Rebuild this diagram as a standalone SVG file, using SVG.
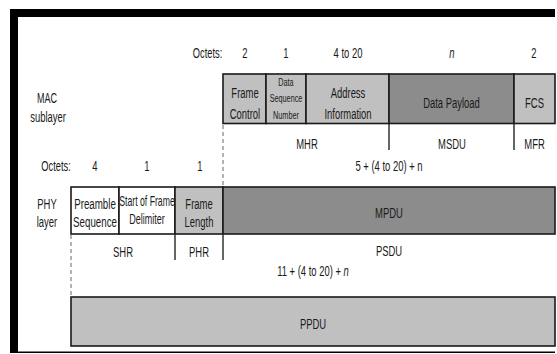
<svg xmlns="http://www.w3.org/2000/svg" width="557" height="354" viewBox="0 0 557 354">
<style>
text{font-family:"Liberation Sans",Arial,sans-serif;font-size:15px;fill:#1a1a1a;text-anchor:middle}
.sm{font-size:11.5px}
.it{font-style:italic}
.cell{stroke:#1a1a1a;stroke-width:1.6}
.lt{fill:#c0c0c0}
.dk{fill:#8c8c8c}
.wh{fill:#ffffff}
.div{stroke:#333;stroke-width:1.5;fill:none}
.dash{stroke:#9a9a9a;stroke-width:1.5;stroke-dasharray:4 3;fill:none}
</style>
<rect x="0" y="0" width="557" height="354" fill="#ffffff"/>
<g id="frame">
<rect x="10" y="9" width="545" height="8" fill="#000"/>
<rect x="10" y="9" width="8" height="344" fill="#000"/>
<rect x="18" y="351.5" width="537" height="1.5" fill="#000"/>
</g>
<g id="labels">
<text transform="translate(207.5 57.5) scale(0.62 1)">Octets:</text>
<text transform="translate(245 57.5) scale(0.63 1)">2</text>
<text transform="translate(286 57.5) scale(0.63 1)">1</text>
<text transform="translate(348 57.5) scale(0.63 1)">4 to 20</text>
<text class="it" transform="translate(452 57.5) scale(0.63 1)">n</text>
<text transform="translate(534 57.5) scale(0.63 1)">2</text>
<text transform="translate(47 103) scale(0.6 1)">MAC</text>
<text transform="translate(48 122) scale(0.63 1)">sublayer</text>
<text transform="translate(56 170.5) scale(0.62 1)">Octets:</text>
<text transform="translate(95 170.5) scale(0.63 1)">4</text>
<text transform="translate(147 170.5) scale(0.63 1)">1</text>
<text transform="translate(200 170.5) scale(0.63 1)">1</text>
<text transform="translate(389 170.5) scale(0.63 1)">5 + (4 to 20) + n</text>
<text transform="translate(47 208.5) scale(0.63 1)">PHY</text>
<text transform="translate(47 226.5) scale(0.63 1)">layer</text>
<text transform="translate(313 275.5) scale(0.63 1)">11 + (4 to 20) + <tspan class="it">n</tspan></text>
</g>
<g id="frame-control">
<rect class="cell lt" x="223" y="74" width="43" height="49.5"/>
<text transform="translate(245 97.5) scale(0.63 1)">Frame</text>
<text transform="translate(245 119) scale(0.63 1)">Control</text>
</g>
<g id="data-sequence-number">
<rect class="cell lt" x="266" y="74" width="40" height="49.5"/>
<text class="sm" transform="translate(286 86) scale(0.63 1)">Data</text>
<text class="sm" transform="translate(286 102) scale(0.63 1)">Sequence</text>
<text class="sm" transform="translate(286 119) scale(0.63 1)">Number</text>
</g>
<g id="address-information">
<rect class="cell lt" x="306" y="74" width="83" height="49.5"/>
<text transform="translate(348 97.5) scale(0.63 1)">Address</text>
<text transform="translate(348 119) scale(0.63 1)">Information</text>
</g>
<g id="data-payload">
<rect class="cell dk" x="389" y="74" width="125" height="49.5"/>
<text transform="translate(451.5 107.5) scale(0.63 1)">Data Payload</text>
</g>
<g id="fcs">
<rect class="cell lt" x="514" y="74" width="41" height="49.5"/>
<text transform="translate(534.5 107.5) scale(0.63 1)">FCS</text>
</g>
<g id="mhr"><text transform="translate(307 148.5) scale(0.63 1)">MHR</text></g>
<g id="msdu"><text transform="translate(452 148.5) scale(0.63 1)">MSDU</text></g>
<g id="mfr"><text transform="translate(534.5 148.5) scale(0.63 1)">MFR</text></g>
<g id="preamble-sequence">
<rect class="cell wh" x="71" y="187" width="48" height="47"/>
<text transform="translate(95 208.5) scale(0.65 1)">Preamble</text>
<text transform="translate(95 226.5) scale(0.65 1)">Sequence</text>
</g>
<g id="start-of-frame-delimiter">
<rect class="cell wh" x="119" y="187" width="56" height="47"/>
<text transform="translate(147 205.5) scale(0.58 1)">Start of Frame</text>
<text transform="translate(147 223.5) scale(0.6 1)">Delimiter</text>
</g>
<g id="frame-length">
<rect class="cell lt" x="175" y="187" width="48" height="47"/>
<text transform="translate(199 208.5) scale(0.63 1)">Frame</text>
<text transform="translate(199 226.5) scale(0.63 1)">Length</text>
</g>
<g id="mpdu">
<rect class="cell dk" x="223" y="187" width="332" height="47"/>
<text transform="translate(389 217.5) scale(0.63 1)">MPDU</text>
</g>
<g id="shr"><text transform="translate(123 256.5) scale(0.63 1)">SHR</text></g>
<g id="phr"><text transform="translate(199 256.5) scale(0.63 1)">PHR</text></g>
<g id="psdu"><text transform="translate(389 255.5) scale(0.63 1)">PSDU</text></g>
<g id="ppdu">
<rect class="cell lt" x="71" y="297" width="484" height="49"/>
<text transform="translate(313 328.5) scale(0.63 1)">PPDU</text>
</g>
<g id="connectors">
<line class="dash" x1="223" y1="125" x2="223" y2="186"/>
<line class="div" x1="389" y1="124" x2="389" y2="150"/>
<line class="div" x1="514" y1="124" x2="514" y2="150"/>
<line class="dash" x1="71" y1="235" x2="71" y2="296"/>
<line class="div" x1="175" y1="234" x2="175" y2="260"/>
<line class="div" x1="223" y1="234" x2="223" y2="260"/>
</g>
</svg>
